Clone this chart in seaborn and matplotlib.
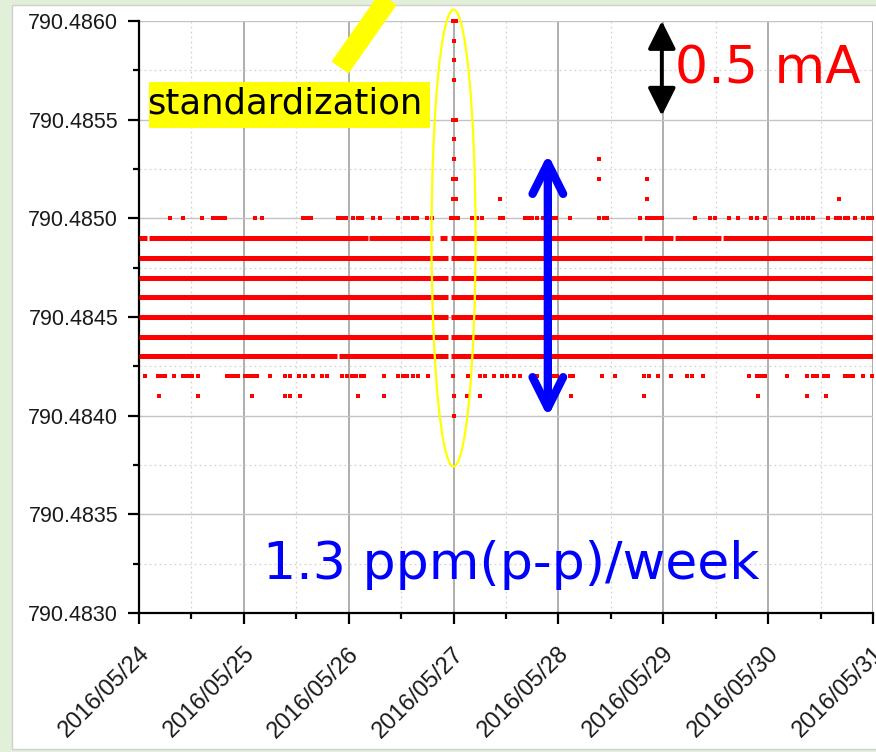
import matplotlib
matplotlib.use("Agg")
import matplotlib.pyplot as plt
import matplotlib.dates as mdates
import matplotlib.ticker as mticker
from matplotlib.patches import Ellipse, Rectangle, FancyArrowPatch
from matplotlib.lines import Line2D
from matplotlib.transforms import ScaledTranslation
import seaborn as sns
import numpy as np
import pandas as pd

# ---------------- data (days since 2016-05-24 00:00) ----------------
start_date = "2016-05-24"
xtick_labels = ["2016/05/24", "2016/05/25", "2016/05/26", "2016/05/27",
                "2016/05/28", "2016/05/29", "2016/05/30", "2016/05/31"]
ytick_values = [790.4830, 790.4835, 790.4840, 790.4845, 790.4850, 790.4855, 790.4860]

# quasi-continuous readings: level, segment start day, segment end day
seg_level = [790.4849, 790.4849, 790.4849, 790.4849, 790.4849, 790.4849, 790.4849, 790.4849,
             790.4848, 790.4848,
             790.4847, 790.4847,
             790.4846, 790.4846,
             790.4845, 790.4845,
             790.4844, 790.4844,
             790.4843, 790.4843, 790.4843]
seg_start = [0.00, 0.10, 2.19, 2.87, 2.98, 4.82, 5.11, 5.57,
             0.00, 2.98,
             0.00, 2.98,
             0.00, 2.98,
             0.00, 2.98,
             0.00, 2.98,
             0.00, 1.91, 2.98]
seg_end = [0.08, 2.18, 2.80, 2.94, 4.80, 5.09, 5.55, 7.00,
           2.95, 7.00,
           2.95, 7.00,
           2.95, 7.00,
           2.95, 7.00,
           2.95, 7.00,
           1.89, 2.95, 7.00]

# sparse readings
days_4850 = [0.30, 0.42, 0.60, 0.71, 0.74, 0.78, 0.82, 1.11, 1.17, 1.56, 1.60, 1.64,
             1.90, 1.94, 1.97, 2.04, 2.09, 2.13, 2.23, 2.30, 2.47, 2.54, 2.57, 2.61,
             2.65, 2.75, 2.79, 2.98, 3.01, 3.04, 3.18, 3.22, 3.27, 3.44, 3.47, 3.68,
             3.72, 3.75, 3.80, 3.85, 3.95, 3.98, 4.11, 4.39, 4.43, 4.46, 4.78, 4.84,
             4.88, 4.92, 4.96, 4.99, 5.30, 5.45, 5.49, 5.63, 5.71, 5.84, 5.89, 5.97,
             6.11, 6.23, 6.28, 6.33, 6.38, 6.43, 6.57, 6.65, 6.69, 6.73, 6.76, 6.83,
             6.90, 6.95, 6.99]
days_4842 = [0.06, 0.18, 0.22, 0.25, 0.33, 0.42, 0.46, 0.49, 0.51, 0.56, 0.84, 0.88,
             0.92, 0.94, 1.01, 1.05, 1.09, 1.13, 1.25, 1.39, 1.44, 1.53, 1.58, 1.66,
             1.75, 1.79, 1.94, 1.98, 2.03, 2.07, 2.12, 2.15, 2.34, 2.47, 2.52, 2.56,
             2.61, 2.66, 2.76, 2.99, 3.14, 3.25, 3.30, 3.39, 3.46, 3.51, 3.58, 3.63,
             3.80, 3.95, 3.99, 4.11, 4.14, 4.42, 4.54, 4.82, 4.86, 4.95, 5.07, 5.23,
             5.27, 5.38, 5.82, 5.89, 5.93, 5.97, 6.18, 6.37, 6.43, 6.47, 6.53, 6.57,
             6.73, 6.77, 6.81, 6.90, 6.99]
days_4841 = [0.19, 0.56, 1.08, 1.39, 1.44, 1.54, 2.09, 2.34, 3.00, 3.13, 3.25, 4.12,
             4.82, 5.90, 6.37, 6.55]
# standardization spike and other isolated readings
extra_days = [2.99, 3.02, 3.00, 3.00, 3.00, 2.99, 3.02, 3.00, 3.00, 2.99, 3.02,
              2.99, 3.02, 3.00, 3.44, 4.39, 4.39, 4.84, 4.84, 6.68]
extra_vals = [790.4860, 790.4860, 790.4859, 790.4858, 790.4857, 790.4855, 790.4855,
              790.4854, 790.4853, 790.4852, 790.4852, 790.4851, 790.4851, 790.4840,
              790.4851, 790.4853, 790.4852, 790.4852, 790.4851, 790.4851]

# ---------------- build tables ----------------
base = pd.Timestamp(start_date)
to_time = lambda d: base + pd.to_timedelta(np.asarray(d, dtype=float), unit="D")

seg_rows = []
for i, (lv, s, e) in enumerate(zip(seg_level, seg_start, seg_end)):
    seg_rows.append({"seg": i, "day": s, "value": lv})
    seg_rows.append({"seg": i, "day": e, "value": lv})
seg_df = pd.DataFrame(seg_rows)
seg_df["time"] = to_time(seg_df["day"])

pts_df = pd.concat([
    pd.DataFrame({"day": days_4850, "value": 790.4850}),
    pd.DataFrame({"day": days_4842, "value": 790.4842}),
    pd.DataFrame({"day": days_4841, "value": 790.4841}),
    pd.DataFrame({"day": extra_days, "value": extra_vals}),
], ignore_index=True)
pts_df["time"] = to_time(pts_df["day"])

# ---------------- style ----------------
sns.set_style("white")
plt.rcParams["font.family"] = ["Liberation Sans", "DejaVu Sans"]
plt.rcParams["lines.solid_capstyle"] = "butt"

W, H = 876, 752
fig = plt.figure(figsize=(W / 100, H / 100), dpi=100)
fig.patch.set_facecolor("#e2efd9")
fig.add_artist(Rectangle((12 / W, 3 / H), 1.0, (749 - 5) / H, transform=fig.transFigure,
                         facecolor="white", edgecolor="#d0d0d0", lw=1, zorder=-1))

ax = fig.add_axes([139 / W, 1 - 613 / H, (873 - 139) / W, (613 - 21) / H])
ax.set_facecolor("white")

sns.lineplot(data=seg_df, x="time", y="value", units="seg", estimator=None,
             color="#ff0000", lw=3.6, ax=ax, legend=False, zorder=3)
sns.scatterplot(data=pts_df, x="time", y="value", marker="s", s=12, color="#ff0000",
                linewidth=0, ax=ax, legend=False, clip_on=False, zorder=3)

x0 = mdates.date2num(base)
ax.set_xlim(x0, x0 + 7)
ax.set_ylim(ytick_values[0], ytick_values[-1])
ax.set_xlabel("")
ax.set_ylabel("")

for sp in ["top", "right"]:
    ax.spines[sp].set_visible(False)
for sp in ["left", "bottom"]:
    ax.spines[sp].set_color("black")
    ax.spines[sp].set_linewidth(1.6)

ax.set_axisbelow(True)
ax.grid(axis="x", which="major", color="#a8a8a8", lw=1.3, ls="-")
ax.grid(axis="y", which="major", color="#c4c4c4", lw=1.0, ls="-")
ax.grid(which="minor", color="#d4d4d4", lw=0.9, ls=(0, (1.5, 2.5)))

ax.tick_params(axis="both", which="both", left=True, bottom=True, top=False, right=False)
ax.tick_params(axis="both", which="major", length=8, width=1.6, color="black",
               labelcolor="#1a1a1a", direction="out")
ax.tick_params(axis="both", which="minor", length=4.5, width=1.6, color="black",
               direction="out")
ax.tick_params(axis="y", which="major", pad=7, labelsize=15.5)
ax.tick_params(axis="x", which="major", pad=19, labelsize=17)

ax.xaxis.set_major_locator(mticker.FixedLocator([x0 + i for i in range(len(xtick_labels))]))
ax.xaxis.set_major_formatter(mticker.FixedFormatter(xtick_labels))
ax.xaxis.set_minor_locator(mticker.FixedLocator([x0 + i + 0.5 for i in range(7)]))
ax.yaxis.set_major_locator(mticker.FixedLocator(ytick_values))
ax.yaxis.set_major_formatter(mticker.FormatStrFormatter("%.4f"))
ax.yaxis.set_minor_locator(mticker.FixedLocator(
    [(a + b) / 2 for a, b in zip(ytick_values[:-1], ytick_values[1:])]))

offset = ScaledTranslation(7 / 100, 0, fig.dpi_scale_trans)
for lbl in ax.get_xticklabels():
    lbl.set_rotation(45)
    lbl.set_ha("right")
    lbl.set_va("center")
    lbl.set_rotation_mode("anchor")
    lbl.set_transform(lbl.get_transform() + offset)

# ---------------- annotations ----------------
ax.add_patch(Ellipse((x0 + 3.0, 790.48490), width=0.42, height=0.002316, fill=False,
                     edgecolor="#ffff00", lw=1.6, clip_on=False, zorder=5))

ax.add_patch(FancyArrowPatch((x0 + 3.899, 790.485326), (x0 + 3.899, 790.483993),
                             arrowstyle="<->,head_length=22,head_width=11",
                             mutation_scale=1, lw=6, color="#0000ff",
                             shrinkA=0, shrinkB=0, capstyle="round", joinstyle="round",
                             clip_on=False, zorder=6))
ax.add_patch(FancyArrowPatch((x0 + 4.986, 790.48600), (x0 + 4.986, 790.48552),
                             arrowstyle="<|-|>,head_length=17,head_width=8.5",
                             mutation_scale=1, lw=2.8, color="black",
                             shrinkA=0, shrinkB=0, clip_on=False, zorder=6))

fig.add_artist(Line2D([340 / W, 393 / W], [1 - 67.5 / H, 1 + 8 / H], transform=fig.transFigure,
                      lw=15, color="#ffff00", solid_capstyle="butt", zorder=4))
fig.add_artist(Rectangle((149 / W, 1 - 128 / H), (430 - 149) / W, (128 - 82) / H,
                         transform=fig.transFigure, facecolor="#ffff00", edgecolor="none",
                         zorder=4))
fig.text(147 / W, 1 - 113 / H, "standardization", fontsize=25.5, family="DejaVu Sans",
         color="black", va="baseline", ha="left", zorder=5)
fig.text(675 / W, 1 - 83 / H, "0.5 mA", fontsize=37.5, family="DejaVu Sans",
         color="#ff0000", va="baseline", ha="left", zorder=5)
fig.text(263 / W, 1 - 579 / H, "1.3 ppm(p-p)/week", fontsize=37.5, family="DejaVu Sans",
         color="#0000ff", va="baseline", ha="left", zorder=5)

fig.savefig("out.png", dpi=100, facecolor=fig.get_facecolor())
